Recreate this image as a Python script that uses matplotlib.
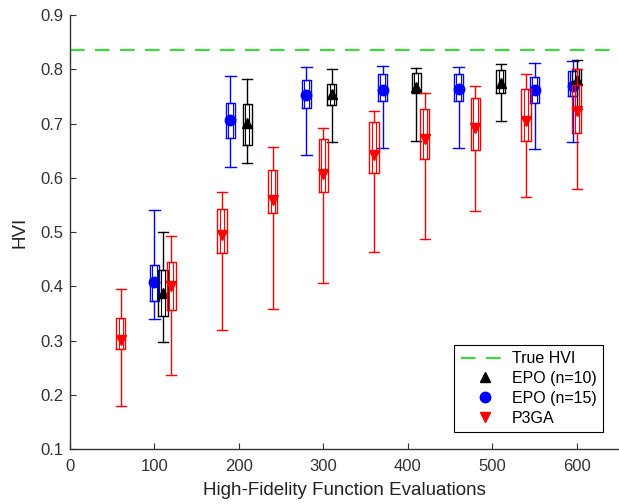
import matplotlib
matplotlib.use("Agg")
import matplotlib.pyplot as plt
from matplotlib.lines import Line2D

plt.rcParams['font.family'] = ['Liberation Sans', 'DejaVu Sans']

true_hvi = 0.835

# P3GA
p3ga_x = [60, 120, 180, 240, 300, 360, 420, 480, 540, 600]
p3ga_med = [0.301, 0.400, 0.494, 0.560, 0.607, 0.643, 0.671, 0.692, 0.705, 0.723]
p3ga_q1 = [0.284, 0.357, 0.462, 0.536, 0.574, 0.609, 0.635, 0.652, 0.668, 0.682]
p3ga_q3 = [0.342, 0.445, 0.542, 0.614, 0.672, 0.702, 0.726, 0.748, 0.763, 0.771]
p3ga_lo = [0.179, 0.236, 0.320, 0.358, 0.406, 0.464, 0.488, 0.539, 0.565, 0.580]
p3ga_hi = [0.395, 0.493, 0.574, 0.657, 0.692, 0.723, 0.756, 0.769, 0.791, 0.800]

# EPO (n=15)
epo15_x = [100, 190, 280, 370, 460, 550, 595]
epo15_med = [0.408, 0.706, 0.752, 0.761, 0.764, 0.762, 0.769]
epo15_q1 = [0.374, 0.674, 0.728, 0.742, 0.741, 0.737, 0.751]
epo15_q3 = [0.439, 0.737, 0.781, 0.791, 0.792, 0.786, 0.796]
epo15_lo = [0.340, 0.620, 0.643, 0.655, 0.655, 0.653, 0.666]
epo15_hi = [0.541, 0.788, 0.804, 0.806, 0.805, 0.812, 0.816]

# EPO (n=10)
epo10_x = [110, 210, 310, 410, 510, 600]
epo10_med = [0.388, 0.701, 0.754, 0.767, 0.774, 0.780]
epo10_q1 = [0.346, 0.660, 0.734, 0.757, 0.757, 0.772]
epo10_q3 = [0.431, 0.736, 0.772, 0.793, 0.798, 0.800]
epo10_lo = [0.297, 0.628, 0.666, 0.668, 0.705, 0.727]
epo10_hi = [0.500, 0.782, 0.800, 0.802, 0.810, 0.818]

fig = plt.figure(figsize=(6.19, 5.04), dpi=100)
ax = fig.add_axes([70/619, 1 - 449.3/504, 549/619, (449.3 - 15)/504])


def draw(x, med, q1, q3, lo, hi, color, marker, ms):
    stats = [dict(med=m, q1=a, q3=b, whislo=l, whishi=h, fliers=[])
             for m, a, b, l, h in zip(med, q1, q3, lo, hi)]
    ax.bxp(stats, positions=x, widths=11, capwidths=12, manage_ticks=False,
           boxprops=dict(color=color, lw=1.0),
           whiskerprops=dict(color=color, lw=1.0),
           capprops=dict(color=color, lw=1.0),
           medianprops=dict(lw=0))
    ax.bxp(stats, positions=x, widths=5, manage_ticks=False, showcaps=False,
           boxprops=dict(color=color, lw=0.8),
           whiskerprops=dict(lw=0),
           medianprops=dict(lw=0))
    ax.plot(x, med, linestyle='none', marker=marker, color=color, ms=ms)


draw(epo15_x, epo15_med, epo15_q1, epo15_q3, epo15_lo, epo15_hi, 'blue', 'o', 7.5)
draw(epo10_x, epo10_med, epo10_q1, epo10_q3, epo10_lo, epo10_hi, 'black', '^', 7.5)
draw(p3ga_x, p3ga_med, p3ga_q1, p3ga_q3, p3ga_lo, p3ga_hi, 'red', 'v', 7.5)

ax.axhline(true_hvi, color='#33e033', lw=1.5, dashes=(7, 5))

ax.set_xlim(0, 650)
ax.set_ylim(0.1, 0.9)
ax.set_xticks([0, 100, 200, 300, 400, 500, 600])
ax.set_yticks([0.1, 0.2, 0.3, 0.4, 0.5, 0.6, 0.7, 0.8, 0.9])
ax.tick_params(direction='in', length=4, labelsize=12, colors='#333333', width=0.8)
ax.tick_params(axis='x', pad=7)
ax.tick_params(axis='y', pad=5)
for s in ['top', 'right']:
    ax.spines[s].set_visible(False)
for s in ['left', 'bottom']:
    ax.spines[s].set_color('#333333')
    ax.spines[s].set_linewidth(1.0)

ax.set_xlabel('High-Fidelity Function Evaluations', fontsize=13.5, color='#222222', labelpad=6)
ax.set_ylabel('HVI', fontsize=13.5, color='#222222', labelpad=8)

handles = [
    Line2D([], [], color='#33e033', lw=1.5, dashes=(7, 5)),
    Line2D([], [], color='black', marker='^', linestyle='none', ms=7.5),
    Line2D([], [], color='blue', marker='o', linestyle='none', ms=7.5),
    Line2D([], [], color='red', marker='v', linestyle='none', ms=7.5),
]
labels = ['True HVI', 'EPO (n=10)', 'EPO (n=15)', 'P3GA']
leg = ax.legend(handles, labels, loc='lower right', bbox_to_anchor=(0.971, 0.040),
                borderaxespad=0, fontsize=11.5, fancybox=False, edgecolor='black',
                framealpha=1, handlelength=3.0, handletextpad=0.2, labelspacing=0.3,
                borderpad=0.4)
leg.get_frame().set_linewidth(0.8)

fig.savefig('out.png', dpi=100)
